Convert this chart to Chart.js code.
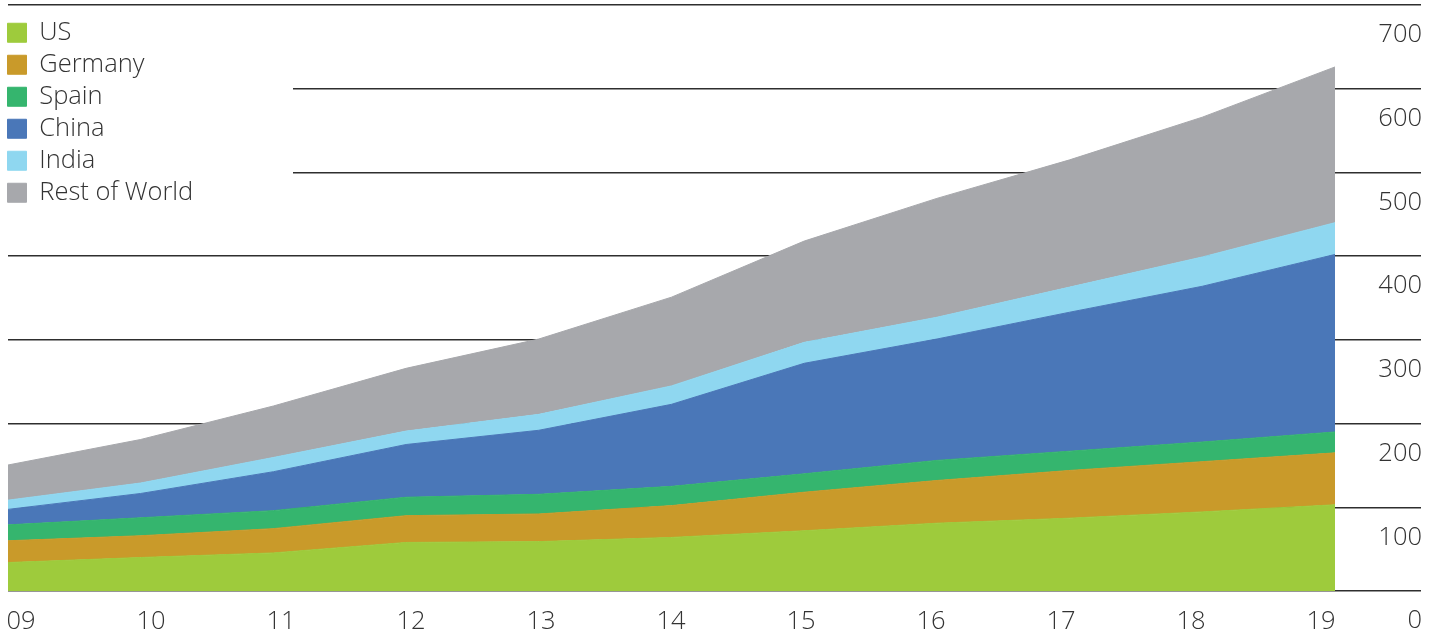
<!DOCTYPE html>
<html>
<head>
<meta charset="utf-8">
<script src="https://cdn.jsdelivr.net/npm/chart.js@4/dist/chart.umd.min.js"></script>
<style>
html,body{margin:0;padding:0;background:#fff}
#wrap{position:relative;width:1442px;height:638px}
</style>
</head>
<body>
<div id="wrap"><canvas id="c"></canvas></div>
<script>
// ---- data ----
const years = ['09','10','11','12','13','14','15','16','17','18','19'];
const yTickValues = [0,100,200,300,400,500,600,700];
const seriesNames = ['US','Germany','Spain','China','India','Rest of World'];
const us      = [34, 40, 45.5, 58, 59, 64, 72, 81, 87, 94.5, 103];
const germany = [26, 26, 29, 32, 33, 38, 46, 51, 57, 60, 62];
const spain   = [19, 21.5, 21.5, 22, 23.5, 23, 22, 24, 23, 23.5, 25];
const china   = [18.5, 29, 46.5, 63, 76.5, 98, 132, 145, 166, 186, 212];
const india   = [11, 12.5, 17, 16, 19, 22, 25, 26, 30, 35, 38];
const rest    = [42, 52, 61.5, 75, 90, 106, 121, 142, 152, 167, 186];
const seriesValues = [us, germany, spain, china, india, rest];

// ---- styles ----
const seriesColors = ['#9ecb3c','#c99a2a','#35b56e','#4a77b8','#8fd7f0','#a7a8ac'];
const textColor = '#333333';
const gridColor = '#2e2e2e';
const fontSpec = {family: "'Open Sans', Roboto, 'Liberation Sans', sans-serif", size: 25.5, weight: '300'};

Chart.defaults.font.family = fontSpec.family;
Chart.defaults.font.size = fontSpec.size;
Chart.defaults.font.weight = fontSpec.weight;
Chart.defaults.color = textColor;

const datasets = seriesNames.map((name, i) => ({
  label: name,
  data: seriesValues[i],
  backgroundColor: seriesColors[i],
  borderColor: seriesColors[i],
  borderWidth: 1,
  pointRadius: 0,
  pointHoverRadius: 0,
  tension: 0,
  fill: i === 0 ? 'origin' : '-1'
}));

const legendPlace = {
  id: 'legendPlace',
  afterLayout(chart) {
    const lg = chart.legend;
    if (!lg) return;
    lg.left = 1; lg.top = 13.5; lg.right = 300; lg.bottom = 260;
  },
  afterDraw(chart) {
    const ctx = chart.ctx;
    ctx.save();
    ctx.fillStyle = '#ffffff';
    ctx.fillRect(0, 12, 293, 238);
    ctx.restore();
    chart.legend.draw();
  }
};

new Chart(document.getElementById('c'), {
  type: 'line',
  data: { labels: years, datasets },
  options: {
    responsive: true,
    maintainAspectRatio: false,
    animation: false,
    layout: { padding: { left: 8, top: 5, right: 20, bottom: 0 } },
    plugins: {
      tooltip: { enabled: false },
      legend: {
        position: 'chartArea',
        align: 'start',
        labels: {
          boxWidth: 19, boxHeight: 19, padding: 6.5,
          color: textColor,
          font: fontSpec
        }
      }
    },
    scales: {
      x: { display: false, offset: false },
      xl: {
        type: 'linear',
        position: 'bottom',
        min: -0.1, max: 10.108,
        grid: { display: false, drawTicks: false },
        border: { display: false },
        ticks: {
          padding: 15,
          color: textColor,
          font: fontSpec,
          maxRotation: 0,
          autoSkip: false,
          callback: (v) => years[v] ?? ''
        },
        afterBuildTicks: (s) => { s.ticks = years.map((_, i) => ({ value: i })); },
        afterFit: (s) => { s.height = 47; s.paddingLeft = 0; s.paddingRight = 0; }
      },
      y: {
        position: 'right',
        stacked: true,
        min: 0, max: 700,
        grid: { color: gridColor, lineWidth: 1.5, drawTicks: true, tickLength: 86 },
        border: { display: false },
        ticks: {
          stepSize: 100,
          crossAlign: 'far',
          padding: 0,
          labelOffset: 30,
          color: textColor,
          font: fontSpec,
          callback: (v) => yTickValues.includes(v) ? String(v) : ''
        },
        afterFit: (s) => { s.width = 87; s.paddingTop = 0; s.paddingBottom = 0; }
      }
    }
  },
  plugins: [legendPlace]
});
</script>
</body>
</html>
